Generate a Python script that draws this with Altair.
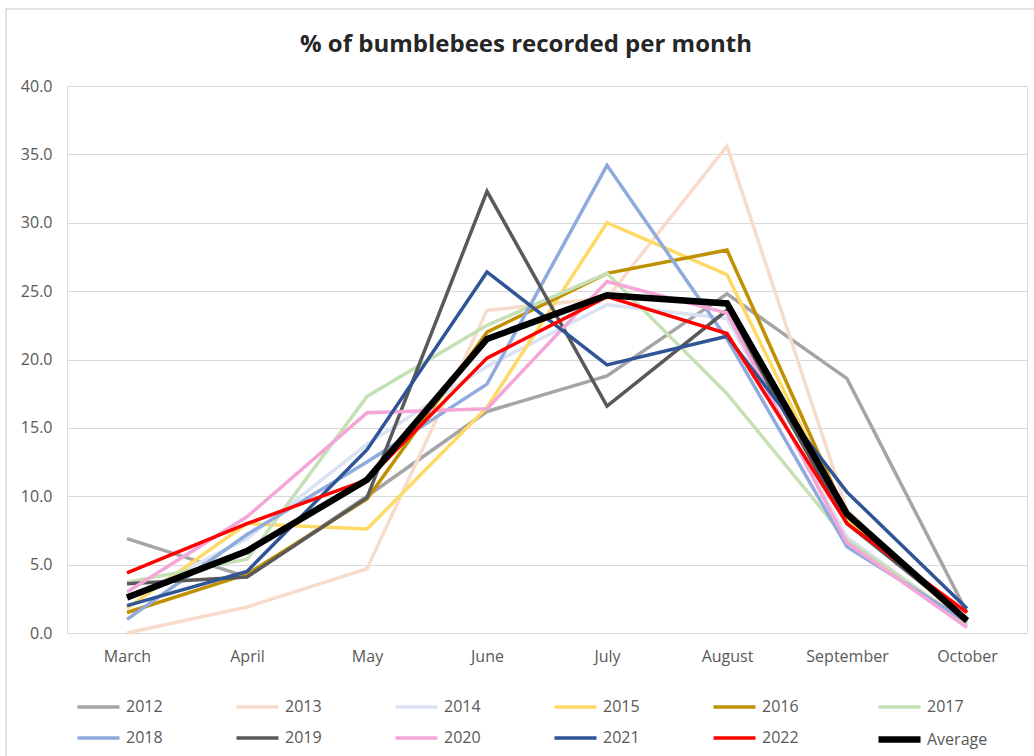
import altair as alt
import pandas as pd

months = ["March", "April", "May", "June", "July", "August", "September", "October"]

series = ["2012", "2013", "2014", "2015", "2016", "2017",
          "2018", "2019", "2020", "2021", "2022", "Average"]

colors = ["#A5A5A5", "#F8DCCB", "#DAE3F3", "#FFD966", "#BF9000", "#C5E0B4",
          "#8FAADC", "#595959", "#F4A6D7", "#2F5597", "#FF0000", "#000000"]

widths = [3.5, 3.5, 3.5, 3.5, 3.5, 3.5, 3.5, 3.5, 3.5, 3.5, 3.5, 6.5]

y2012 = [6.9, 4.1, 10.0, 16.2, 18.8, 24.8, 18.6, 1.5]
y2013 = [0.0, 1.9, 4.7, 23.6, 24.5, 35.6, 9.0, 0.5]
y2014 = [2.5, 6.9, 13.8, 19.5, 24.0, 23.0, 7.0, 0.6]
y2015 = [1.8, 8.0, 7.6, 16.5, 30.0, 26.2, 8.3, 0.8]
y2016 = [1.5, 4.3, 9.8, 22.0, 26.3, 28.0, 8.5, 0.9]
y2017 = [3.7, 5.4, 17.3, 22.5, 26.3, 17.5, 6.8, 0.7]
y2018 = [1.0, 7.2, 12.5, 18.2, 34.2, 21.5, 6.3, 0.8]
y2019 = [3.6, 4.1, 9.9, 32.3, 16.6, 23.6, 8.0, 1.0]
y2020 = [3.0, 8.5, 16.1, 16.4, 25.7, 23.4, 6.6, 0.4]
y2021 = [2.0, 4.5, 13.4, 26.4, 19.6, 21.7, 10.3, 1.8]
y2022 = [4.4, 8.0, 11.2, 20.1, 24.6, 21.9, 8.0, 1.5]
y_avg = [2.6, 6.0, 11.2, 21.5, 24.7, 24.1, 8.7, 0.9]

values = [y2012, y2013, y2014, y2015, y2016, y2017,
          y2018, y2019, y2020, y2021, y2022, y_avg]

rows = []
for order, (name, vals) in enumerate(zip(series, values)):
    for m, v in zip(months, vals):
        rows.append({"series": name, "month": m, "value": v, "order": order})
df = pd.DataFrame(rows)

FONT = "Open Sans"
LABEL_GREY = "#595959"

legend_props = dict(
    title=None,
    orient="none",
    legendX=7,
    legendY=598,
    direction="horizontal",
    columns=6,
    symbolType="stroke",
    symbolSize=1764,
    labelOffset=3,
    columnPadding=66,
    rowPadding=-8,
    labelFont=FONT,
    labelFontSize=16,
    labelColor=LABEL_GREY,
)

lines = alt.Chart(df).mark_line(strokeCap="butt", strokeJoin="miter").encode(
    x=alt.X(
        "month:N",
        sort=months,
        scale=alt.Scale(type="point", padding=0.5),
        axis=alt.Axis(
            title=None, labelAngle=0, domain=False, ticks=False, grid=False,
            labelPadding=15, labelFont=FONT, labelFontSize=16,
            labelColor=LABEL_GREY,
        ),
    ),
    y=alt.Y(
        "value:Q",
        scale=alt.Scale(domain=[0, 40], nice=False, zero=True),
        axis=alt.Axis(
            title=None, values=[0, 5, 10, 15, 20, 25, 30, 35, 40], format=".1f",
            domain=False, ticks=False, grid=True, gridColor="#D9D9D9",
            gridWidth=1.2, labelPadding=15, labelFont=FONT, labelFontSize=16,
            labelColor=LABEL_GREY,
        ),
    ),
    color=alt.Color(
        "series:N", sort=series,
        scale=alt.Scale(domain=series, range=colors),
        legend=alt.Legend(**legend_props),
    ),
    strokeWidth=alt.StrokeWidth(
        "series:N", sort=series,
        scale=alt.Scale(type="ordinal", domain=series, range=widths),
        legend=alt.Legend(**legend_props),
    ),
    order=alt.Order("order:Q"),
)

# light frame around the whole chart
frame = alt.Chart(pd.DataFrame({"a": [0]})).mark_rect(
    fillOpacity=0, stroke="#D9D9D9", strokeWidth=1.5
).encode(
    x=alt.value(-61), x2=alt.value(1000),
    y=alt.value(-77), y2=alt.value(700),
)

chart = alt.layer(frame, lines).properties(
    width=960,
    height=547,
    padding={"left": 67, "top": 86, "right": 7, "bottom": 123},
    autosize=alt.AutoSizeParams(type="none"),
    title=alt.TitleParams(
        "% of bumblebees recorded per month",
        font=FONT, fontSize=24, fontWeight="bold", color="#262626",
        anchor="middle", frame="group", dx=-21, offset=-68,
        baseline="alphabetic",
    ),
).configure_view(stroke=None).configure(background="white")

chart.save("out.html", embed_options={"renderer": "svg", "actions": False})
